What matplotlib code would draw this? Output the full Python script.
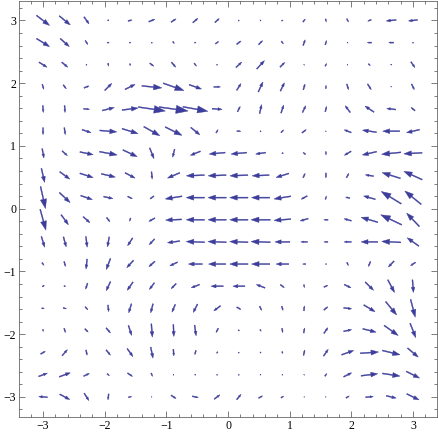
import numpy as np
import matplotlib
matplotlib.use('Agg')
from matplotlib import pyplot as plt
from matplotlib.ticker import MultipleLocator

# grid of sample points (18 x 18), rows from top (y=3) to bottom (y=-3)
xs = np.linspace(-3, 3, 18)
ys = np.linspace(3, -3, 18)

# arrow components, in screen pixels (v up = positive)
U = [
    [13, 11, 5, 1, 4, 6, 5, 5, 4.3, 1, 1, 1.5, 2.3, 0.7, 1.7, -3.5, -10, -9],
    [13, 9, 2.5, 2, 1.5, 0.5, 1.5, 1.5, 3.3, 4.3, 4, 2, 2, 1.3, 0.5, -4.3, -5, -0.5],
    [8, 6, 1, 0.3, 0.5, 4, 4.3, 2.3, 1, 5.7, 7.7, 4.7, 0.3, 1.3, 0.5, 2, 0, 4],
    [1.5, 3, 5, 7, 10, 20, 20.7, 12.3, 6.7, 4.3, 4.7, 4, 1.7, 0.3, 1.7, 3.7, 0, 2.7],
    [0.5, 0.5, 6, 12, 16, 27, 29, 25, 10, 2.7, 2, 2.7, 3.3, 1.3, -5, -9, -9, -4],
    [0, 1, 9, 17, 16, 16, 16.7, 9, 2, 4, 0.5, 2.7, 4.3, 0.3, -7, -14, -17, -13],
    [1.7, 5.3, 13.3, 17.7, 14.3, 4.3, -2, -10, -16, -15.7, -10, -1.3, -2.5, 0.3, -6.7, -14.3, -19.3, -18.3],
    [3.3, 10, 13.3, 14, 10, 0.7, -12.3, -18, -18, -18, -17, -12.7, 2, 0, 2.3, -8.3, -18.3, -18.3],
    [5, 10.7, 11.7, 9.3, 4.7, -4, -16.7, -18.3, -18.3, -18.3, -18.3, -16.7, -6, 1, -4.3, -11.7, -20, -16.3],
    [5.7, 7.3, 6.7, 3.3, -1, -6, -16, -18.3, -18.3, -18.3, -19.3, -16.7, -8, -4.3, -7.3, -16.7, -21, -12.7],
    [3.3, 2.7, 1.3, -1.7, -5, -5.3, -12.3, -18.3, -18.3, -18.3, -19.3, -15, -6.7, -4, -7.3, -16.7, -19, -11.7],
    [2, 1.3, -1, -4.3, -6.7, -6, -7.7, -14, -17.3, -18.3, -18.3, -12.7, -3, -1, 1.3, -2, -5.7, -5],
    [-2, 1.5, -2, -4.3, -5.7, -5, -5, -8.3, -12.3, -12, -8.7, 4, 0.5, 4, 6.7, 8.3, 6.7, 1],
    [2.5, 3.3, 2.7, 0.7, -2.7, -2.3, -3.3, -4.3, -6.7, 4.3, 2, 1.3, 0.5, 4, 8, 11.3, 11, 4.7],
    [0.5, 1.3, 3.3, 4.3, 3.3, 1, 0.5, 1.5, -2.3, 1, 1, 0.7, 1, 4, 8, 13.3, 14, 5.7],
    [4.7, 5.3, 1, 4.3, 5.7, 2.3, 0.5, -1, -1, 1, 0.7, 0.5, 1.3, 4.7, 12, 18.3, 17.7, 10.7],
    [8.7, 11, 5.7, 2.3, 5, 1.3, 0.7, 1, 0.7, 0.7, 0.7, 0.7, 0.3, 2, 8, 16.7, 17.7, 13.3],
    [-8.7, 10, 4.7, -0.7, 3.3, 0.3, 5, 6, 5.7, 4.3, 4, 2.7, 0.3, 0.3, 3.3, 7.7, 10, 12.3],
]
V = [
    [-10, -9, -7, -1, 1, 2.5, 3.3, 4.3, 4, 0.3, 0, 0.5, 3, -3, -3.3, -1.5, -1, -1],
    [-8, -8, -4, 0, 0, 1, -2, 0, 2.3, 3.3, 4, -2.7, 5.7, 4.3, 0.5, 0, 0, 1],
    [-5, -5, 0, -3, -2, -3, -5, -3, 0, 5.3, 8.3, 4.7, 0.3, 2.7, 0, -1.7, -1, -5.7],
    [-5, -4, 2, 7, 5, -2, -7.3, -4.3, 0, 6.7, 10, 8.3, 5.7, 3.3, -5.7, -5.7, -0.5, -5.7],
    [-7, -7, -0.5, 3, 2, -4, -4, -4.5, -0.7, 5.3, 9, 8, 6.7, 5.3, 6.7, 6, 1, 3.3],
    [-7, -7, -3, -1.5, -5, -9, -8.3, -7.3, 3.3, 0, 1, 2.7, 3.3, 0.3, 2.7, 2, 0, -3],
    [-9.3, -4.7, -2.7, -3.3, -6.7, -10.7, -8, -4, -1.5, -1.5, -1.5, -1, 2, -3.3, -4, -3.3, -2, -1],
    [-14, -7.3, -4.3, -3.3, -5.3, -7.3, -5.3, -0.7, -0.7, -0.7, -0.7, -4, 4.3, -5, 4.3, 1.3, 5.7, 8.3],
    [-22, -10, -4, -2, -2.3, -3, -2.7, 0, 0, 0, 0, -2.7, -3.3, 3.3, 1, 3.3, 12.3, 13.3],
    [-20.7, -10, -6, -4.3, -3.3, -3.3, -0.7, 0, 0, 0, 0, -1.3, -2.3, 0, 2, 5, 10, 13.3],
    [-10.7, -10, -10.7, -10, -7.7, -5.7, -1.7, 0.7, 0.7, 0.7, 0.7, 0, 0, 0, 0, 0, 1, 8.3],
    [-2.7, -5, -10, -11, -7.3, -5.3, -3.7, 0, 0, 0, 0, 0, 0, 0, -3.3, -5, -6, -3.3],
    [-1.5, -1, -6, -9, -8.3, -6.7, -5, -3.3, 0, 0, 3.3, -3, -3, 1.7, -3.3, -8.3, -12.7, -12.7],
    [0, -1, -3, -6.7, -9, -9, -7.7, -8.3, -5, -2.3, -4.3, -4.3, 5, 3.3, -1, -6.7, -13.3, -17.7],
    [-2, -4.3, -3.3, -5, -10, -13.3, -12, -10.7, -4.3, -1, -1.7, -4.3, 5, 5.7, 1.7, -3.3, -10, -14.3],
    [2.7, 6, -5.3, -5.3, -8, -11, -6.7, -4.3, -1.5, 0, -1, -2, 5.3, 6.7, 4.3, 1.3, -4.3, -9],
    [3.3, 4, 2.7, -2, -3.3, -3.3, 0, -0.5, 0.7, 0.7, -0.5, 0, 0.3, 2.7, 4, 2, -2.7, -6.7],
    [0.7, -5.3, -7.3, -6, 0.7, 0, -3.3, -1.3, 4.3, 5.3, 2.3, 1.7, 0, 0, 2, 0.7, -2.3, -6],
]

xticks = [-3, -2, -1, 0, 1, 2, 3]
yticks = [-3, -2, -1, 0, 1, 2, 3]

arrow_color = '#3d3d9c'
frame_color = '#666666'
px_x = 61.67  # pixels per data unit
px_y = 62.67

fig = plt.figure(figsize=(4.38, 4.36), dpi=100)
ax = fig.add_axes([19/438, 19/436, 418/438, 416/436])

for j, y in enumerate(ys):
    for i, x in enumerate(xs):
        u, v = U[j][i], V[j][i]
        L = np.hypot(u, v)
        if L < 0.2:
            continue
        dx, dy = u / px_x, v / px_y
        ax.arrow(x - dx/2, y - dy/2, dx, dy, width=1.0/px_y,
                 head_width=0.28*L/px_y, head_length=0.42*L/px_y,
                 length_includes_head=True, color=arrow_color, lw=0.3)

ax.set_xlim(-3.39, 3.39)
ax.set_ylim(-3.32, 3.31)
ax.set_xticks(xticks)
ax.set_yticks(yticks)
ax.set_xticklabels(['\u2212%d' % -t if t < 0 else str(t) for t in xticks])
ax.set_yticklabels(['\u2212%d' % -t if t < 0 else str(t) for t in yticks])
ax.xaxis.set_minor_locator(MultipleLocator(0.2))
ax.yaxis.set_minor_locator(MultipleLocator(0.2))
ax.tick_params(which='both', direction='in', top=True, right=True,
               color=frame_color, width=0.6)
ax.tick_params(which='major', length=4, pad=2, labelsize=8.5)
ax.tick_params(which='minor', length=2)
for lab in ax.get_xticklabels() + ax.get_yticklabels():
    lab.set_family('Liberation Serif')
for s in ax.spines.values():
    s.set_color(frame_color)
    s.set_linewidth(0.6)

fig.savefig('out.png', dpi=100)
